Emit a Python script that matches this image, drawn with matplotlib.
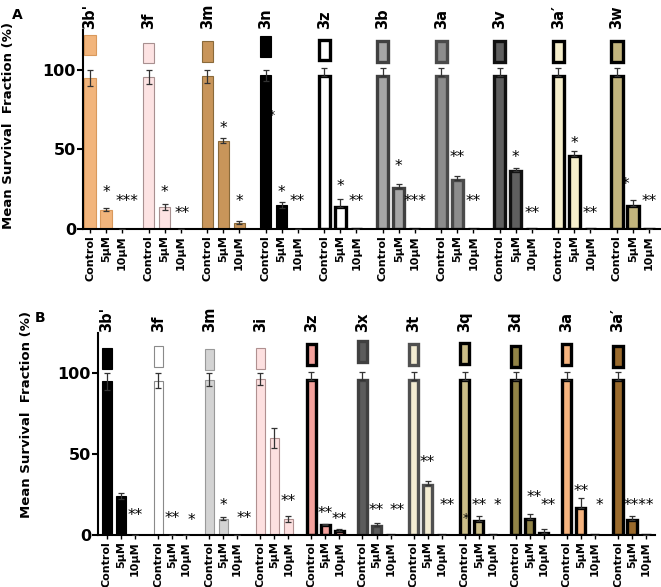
import numpy as np
import matplotlib
matplotlib.use('Agg')
import matplotlib.pyplot as plt

plt.rcParams['font.family'] = ['DejaVu Sans']

doses = ['Control', '5µM', '10µM']

# ---- panel A ----
a_names = ["3b'", '3f', '3m', '3n', '3z', '3b', '3a', '3v', "3a′", '3w']
a_ctrl = [95, 95.5, 96, 96.5, 96, 96, 96, 96, 96, 96]
a_ctrl_err = [5, 4.5, 4, 3.5, 5, 5, 5, 5, 5, 5]
a_5 = [12, 14, 55.5, 15, 14, 25.5, 31, 36.5, 46, 14.5]
a_5_err = [1, 2, 1.5, 2, 5, 2.5, 2.5, 2, 3, 3.5]
a_10 = [0, 0, 4, 0, 0, 0, 0, 0, 0, 0]
a_10_err = [0, 0, 1, 0, 0, 0, 0, 0, 0, 0]
a_fill = ['#f2b57c', '#fde3e3', '#c8955a', '#000000', '#ffffff',
          '#a6a6a6', '#8c8c8c', '#5f5f5f', '#f5eecb', '#c2b47c']
a_edge = ['#d9995c', '#a89090', '#8a6a3a', '#000000', '#000000',
          '#404040', '#4a4a4a', '#111111', '#000000', '#000000']
a_thick = [0, 0, 0, 0, 1, 1, 1, 1, 1, 1]
a_swatch_bottom = [109, 104, 105, 108, 106, 105, 105, 105, 105, 105]
# significance marks above the 5µM and 10µM bars
a_star5 = ['*', '*', '*', '*', '*', '*', '**', '*', '*', '*']
a_star5_y = [23, 23, 63, 23, 26.5, 39.5, 45, 45, 53.5, 28]
a_star5_dx = [0, 0, 0, 0, 0, 0, 0, 0, 0, -0.45]
a_star10 = ['***', '**', '*', '**', '**', '***', '**', '**', '**', '**']
a_star10_y = [17, 9.5, 17, 17, 17, 17, 17, 9.5, 9.5, 17]
a_star10_dx = [0.3, 0.1, 0, 0, 0, 0, 0, 0, 0, 0]
a_extra = [('*', 3, 0.4, 71)]   # stray mark on the 3n control bar

# ---- panel B ----
b_names = ["3b'", '3f', '3m', '3i', '3z', '3x', '3t', '3q', '3d', '3a', "3a′"]
b_ctrl = [95, 95.5, 96, 96.5, 96, 96, 96, 96, 96, 96, 96]
b_ctrl_err = [5, 4.5, 4, 3.5, 5, 5, 5, 5, 5, 5, 5]
b_5 = [24, 0, 10, 60, 6, 5.5, 31, 8.5, 10, 17, 9]
b_5_err = [2, 0, 1, 6, 1, 2, 2.5, 3, 3, 6, 3]
b_10 = [0, 0, 0, 10, 2.5, 0, 0, 0, 1.5, 0, 0]
b_10_err = [0, 0, 0, 2, 1, 0, 0, 0, 2, 0, 0]
b_fill = ['#000000', '#ffffff', '#d3d3d3', '#fde0e0', '#f4a19c', '#5c5c5c',
          '#f3ecd2', '#cbbd88', '#918346', '#f6b47f', '#9a6a2c']
b_edge = ['#000000', '#8a8a8a', '#999999', '#b09090', '#000000', '#404040',
          '#505050', '#000000', '#000000', '#000000', '#000000']
b_thick = [0, 0, 0, 0, 1, 1, 1, 1, 1, 1, 1]
b_swatch_bottom = [103, 104, 102, 103, 105, 107, 105.5, 106, 104, 105, 104]
b_star5 = ['', '**', '*', '', '**', '**', '**', '**', '**', '**', '****']
b_star5_y = [0, 10, 18, 0, 13, 15, 45, 18, 23, 27, 18]
b_star5_dx = [0, 0, 0, 0, 0, 0, 0, 0, 0.3, 0, 0.5]
b_star10 = ['**', '*', '**', '**', '**', '**', '**', '*', '**', '*', '']
b_star10_y = [12, 9, 10, 20.5, 9.5, 15, 18, 18, 18, 18, 0]
b_star10_dx = [0, 0.4, 0.5, 0, 0, 0.5, 0.4, 0.3, 0.3, 0.3, 0]
b_extra = [('*', 7, 0.1, 10)]   # stray mark on the 3q control bar

fig = plt.figure(figsize=(6.61, 5.87), dpi=100)


def draw_panel(ax, names, ctrl, ctrl_err, v5, e5, v10, e10, fill, edge, thick,
               sw_bottom, st5, st5_y, st5_dx, st10, st10_y, st10_dx, extra,
               step, width, xlim):
    n = len(names)
    base = np.arange(n) * step
    vals = [ctrl, v5, v10]
    errs = [ctrl_err, e5, e10]
    lw = [2.4 if t else 0.8 for t in thick]
    ticks, labels = [], []
    for d in range(3):
        x = base + d
        ax.bar(x, vals[d], width=width, color=fill, edgecolor=edge,
               linewidth=lw, zorder=2)
        lower = [errs[d][i] if not thick[i] else 0 for i in range(n)]
        ax.errorbar(x, vals[d], yerr=[lower, errs[d]], fmt='none',
                    ecolor='#333333', elinewidth=0.9, capsize=2.5,
                    capthick=0.9, zorder=3)
        ticks += list(x)
        labels += [doses[d]] * n
    # small swatches above the control bars
    ax.bar(base, [13] * n, bottom=sw_bottom, width=width, color=fill,
           edgecolor=edge, linewidth=lw, zorder=2, clip_on=False)
    for i, nm in enumerate(names):
        ax.text(base[i], 125.5, nm, rotation=90, ha='center', va='bottom',
                fontsize=10.5, fontweight='bold')
    for i in range(n):
        if st5[i]:
            ax.text(base[i] + 1 + st5_dx[i], st5_y[i], st5[i], ha='center',
                    va='center', fontsize=11, zorder=4)
        if st10[i]:
            ax.text(base[i] + 2 + st10_dx[i], st10_y[i], st10[i], ha='center',
                    va='center', fontsize=11, zorder=4)
    for t, g, dx, y in extra:
        ax.text(base[g] + dx, y, t, ha='center', va='center', fontsize=9,
                zorder=4)
    order = np.argsort(ticks)
    ax.set_xticks(np.array(ticks)[order])
    ax.set_xticklabels(np.array(labels)[order], rotation=90,
                       fontsize=8, fontweight='bold')
    ax.set_xlim(*xlim)
    ax.set_ylim(0, 125)
    ax.set_yticks([0, 50, 100])
    ax.set_yticklabels(['0', '50', '100'], fontsize=11.5, fontweight='bold')
    for s in ['top', 'right']:
        ax.spines[s].set_visible(False)
    ax.spines['left'].set_linewidth(1.5)
    ax.spines['bottom'].set_linewidth(1.5)
    ax.tick_params(axis='x', length=3, width=1, pad=1.5)
    ax.tick_params(axis='y', length=4, width=1.5, pad=1)


ax1 = fig.add_axes([83 / 661, 1 - 229 / 587, 577 / 661, 199 / 587])
draw_panel(ax1, a_names, a_ctrl, a_ctrl_err, a_5, a_5_err, a_10, a_10_err,
           a_fill, a_edge, a_thick, a_swatch_bottom, a_star5, a_star5_y,
           a_star5_dx, a_star10, a_star10_y, a_star10_dx, a_extra,
           3.66, 0.7, (-0.44, 35.63))

ax2 = fig.add_axes([98 / 661, 1 - 535 / 587, 557 / 661, 202 / 587])
draw_panel(ax2, b_names, b_ctrl, b_ctrl_err, b_5, b_5_err, b_10, b_10_err,
           b_fill, b_edge, b_thick, b_swatch_bottom, b_star5, b_star5_y,
           b_star5_dx, b_star10, b_star10_y, b_star10_dx, b_extra,
           3.65, 0.65, (-0.64, 39.14))

fig.text(9 / 661, 1 - 126 / 587, 'Mean Survival  Fraction (%)', rotation=90,
         ha='center', va='center', fontsize=9.5, fontweight='bold')
fig.text(27 / 661, 1 - 415 / 587, 'Mean Survival  Fraction (%)', rotation=90,
         ha='center', va='center', fontsize=9.5, fontweight='bold')
fig.text(17 / 661, 1 - 15 / 587, 'A', ha='center', va='center',
         fontsize=10, fontweight='bold')
fig.text(40 / 661, 1 - 318 / 587, 'B', ha='center', va='center',
         fontsize=10, fontweight='bold')

fig.savefig('out.png', dpi=100)
